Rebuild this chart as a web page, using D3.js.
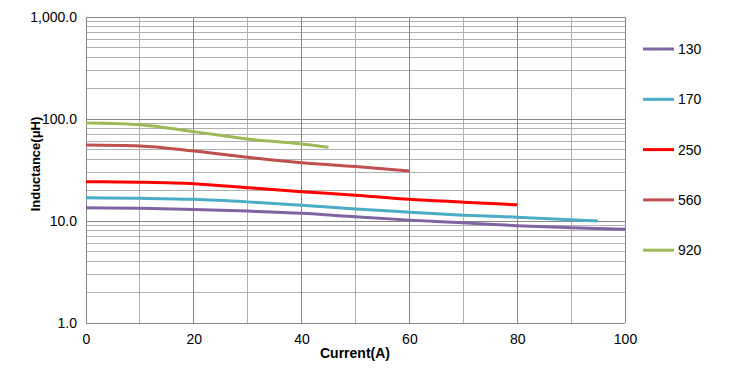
<!DOCTYPE html>
<html><head><meta charset="utf-8">
<script src="https://cdn.jsdelivr.net/npm/d3@7"></script>
<style>body{margin:0;background:#fff;} svg{display:block;font-family:"Liberation Sans",Arial,sans-serif;}</style>
</head><body>
<svg id="c" width="736" height="370"></svg>
<script>
const seriesNames = ["130","170","250","560","920"];
const seriesColors = ["#8064A2","#4BACC6","#FF0000","#C0504D","#9BBB59"];
const x130 = [0,10,20,30,40,50,60,70,80,90,100];
const y130 = [13.5,13.3,13.0,12.5,11.9,11.0,10.2,9.6,9.0,8.6,8.3];
const x170 = [0,10,20,30,40,50,60,70,80,90,95];
const y170 = [16.9,16.7,16.3,15.4,14.3,13.1,12.2,11.4,10.9,10.3,10.0];
const x250 = [0,10,20,30,40,50,60,70,80];
const y250 = [24.3,24.0,23.2,21.2,19.4,17.9,16.3,15.3,14.4];
const x560 = [0,10,20,30,40,50,60];
const y560 = [55.6,54.5,48.6,42.1,37.3,34.2,31.0];
const x920 = [0,5,10,20,30,40,45];
const y920 = [91.4,90.5,87.9,75.2,63.7,56.9,52.8];
const xTicks = [0,20,40,60,80,100];
const yTicks = [1,10,100,1000];

const xs=[x130,x170,x250,x560,x920], ys=[y130,y170,y250,y560,y920];
const svg=d3.select("#c");
const L=86,R=625,T=17,B=323;
const x=d3.scaleLinear().domain([0,100]).range([L,R]);
const y=d3.scaleLog().domain([1,1000]).range([B,T]);

const g=svg.append("g");
d3.range(10,100,20).forEach(v=>g.append("line").attr("x1",x(v)).attr("x2",x(v)).attr("y1",T).attr("y2",B).attr("stroke","#b0b0b0").attr("stroke-width",1).attr("shape-rendering","crispEdges"));
[1,10,100].forEach(d=>{for(let k=2;k<=9;k++){const v=d*k;g.append("line").attr("x1",L).attr("x2",R).attr("y1",y(v)).attr("y2",y(v)).attr("stroke","#b0b0b0").attr("stroke-width",1).attr("shape-rendering","crispEdges");}});
xTicks.forEach(v=>g.append("line").attr("x1",x(v)).attr("x2",x(v)).attr("y1",T).attr("y2",B).attr("stroke","#888").attr("stroke-width",1).attr("shape-rendering","crispEdges"));
yTicks.forEach(v=>g.append("line").attr("x1",L).attr("x2",R).attr("y1",y(v)).attr("y2",y(v)).attr("stroke","#888").attr("stroke-width",1).attr("shape-rendering","crispEdges"));

const xa=svg.append("g").attr("transform",`translate(0,${B})`).call(d3.axisBottom(x).tickValues(xTicks).tickSize(0).tickPadding(11));
xa.select(".domain").remove();
xa.selectAll("text").attr("font-size",14).attr("fill","#000").attr("font-family","Liberation Sans, Arial, sans-serif");
const ya=svg.append("g").attr("transform",`translate(${L-9},0)`).call(d3.axisLeft(y).tickValues(yTicks).tickSize(0).tickPadding(0).tickFormat(d3.format(",.1f")));
ya.select(".domain").remove();
ya.selectAll("text").attr("font-size",14).attr("fill","#000").attr("font-family","Liberation Sans, Arial, sans-serif");

const line=d3.line().x(d=>x(d[0])).y(d=>y(d[1])).curve(d3.curveMonotoneX);
seriesNames.forEach((n,i)=>{
  const pts=xs[i].map((v,j)=>[v,ys[i][j]]);
  svg.append("path").datum(pts).attr("d",line).attr("fill","none").attr("stroke",seriesColors[i]).attr("stroke-width",3);
});

svg.append("text").attr("x",355).attr("y",358).attr("text-anchor","middle").attr("font-size",14).attr("font-weight","bold").text("Current(A)");
svg.append("text").attr("transform","translate(40,164) rotate(-90)").attr("text-anchor","middle").attr("font-size",13).attr("font-weight","bold").text("Inductance(μH)");

seriesNames.forEach((n,i)=>{
  const ly=49+i*50.3;
  svg.append("line").attr("x1",643).attr("x2",674).attr("y1",ly).attr("y2",ly).attr("stroke",seriesColors[i]).attr("stroke-width",3);
  svg.append("text").attr("x",678).attr("y",ly+5).attr("font-size",14).text(n);
});
</script>
</body></html>
